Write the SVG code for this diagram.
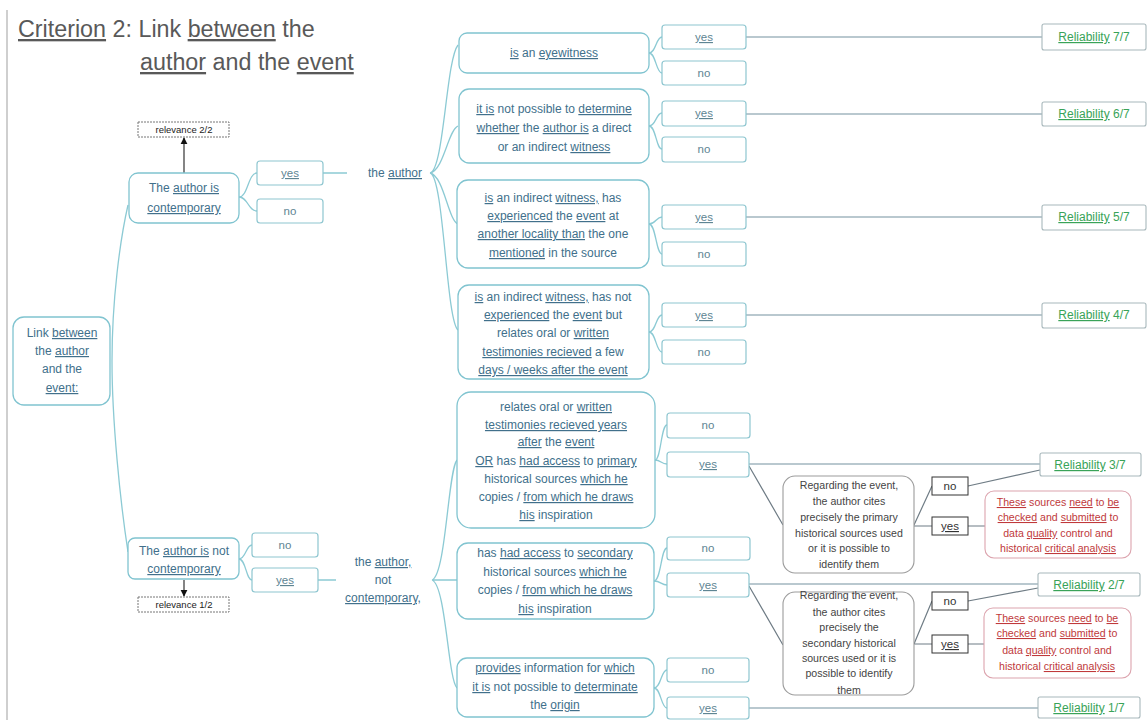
<svg xmlns="http://www.w3.org/2000/svg" width="1148" height="720" viewBox="0 0 1148 720">
<style>
text{font-family:"Liberation Sans",Arial,sans-serif}
.title{font-size:23.3px;fill:#595959}
.nb{fill:#fff;stroke:#80c4d0;stroke-width:1.3}
.yn{fill:#fff;stroke:#8ec6d0;stroke-width:1.2}
.t{font-size:12px;fill:#41708b;text-anchor:middle}
.tg{font-size:11.5px;fill:#5e8593;text-anchor:middle}
.con{fill:none;stroke:#8ccad4;stroke-width:1.3}
.gl{fill:none;stroke:#a3b6c0;stroke-width:1.6}
.dl{fill:none;stroke:#6f7c85;stroke-width:1.2}
.dec{fill:#fff;stroke:#9c9c9c;stroke-width:1.1}
.dt{font-size:10.6px;fill:#444;text-anchor:middle}
.bk{fill:#fff;stroke:#333;stroke-width:1}
.bt{font-size:11.5px;fill:#333;text-anchor:middle}
.rb{fill:#fff;stroke:#dca4ae;stroke-width:1.1}
.rt{font-size:10.6px;fill:#c0393b;text-anchor:middle}
.relb{fill:#fff;stroke:#a8b8bc;stroke-width:1.1}
.relt{font-size:12px;fill:#39a358;text-anchor:middle}
.rvb{fill:#fff;stroke:#777;stroke-width:1;stroke-dasharray:2 1}
.rvt{font-size:9.5px;fill:#222;text-anchor:middle}
.u{text-decoration:underline}
</style>
<defs>
<marker id="ah" viewBox="0 0 10 10" refX="9" refY="5" markerWidth="6" markerHeight="6" orient="auto-start-reverse"><path d="M0,0 L10,5 L0,10 z" fill="#111"/></marker>
</defs>
<rect x="0" y="0" width="1148" height="720" fill="#fff"/>
<line x1="7" y1="10" x2="7" y2="720" stroke="#cfcfcf" stroke-width="2"/>
<g id="title">
<text class="title" x="18" y="37"><tspan class="u">Criterion</tspan> 2: Link <tspan class="u">between</tspan> the</text>
<text class="title" x="140" y="70"><tspan class="u">author</tspan> and the <tspan class="u">event</tspan></text>
</g>
<g id="connectors">
<path class="con" d="M128,205 C120,240 112,300 112,361 C112,420 120,500 128,552"/>
<path class="con" d="M239,197 C248,197 248,173 257,173 M239,197 C248,197 248,211 257,211"/>
<path class="con" d="M239,559 C246,559 246,545 252,545 M239,559 C246,559 246,580 252,580"/>
<path class="con" d="M323,173 H347 M318,580 H336"/>
<path d="M184,173 V138" stroke="#333" stroke-width="1.2" marker-end="url(#ah)"/>
<path d="M184,580 V596" stroke="#333" stroke-width="1.2" marker-end="url(#ah)"/>
<path class="con" d="M430,173 C444,170 446,60 458,45 M430,173 C444,170 448,130 458,126 M430,173 C444,176 448,220 458,224 M430,173 C444,176 446,320 458,330"/>
<path class="con" d="M432,580 C446,575 448,470 457,460 M432,580 H457 M432,580 C446,585 448,680 457,688"/>
<path class="con" d="M649,53 C656,53 656,37 662,37 M649,53 C656,53 656,73 662,73"/>
<path class="con" d="M649,126 C656,126 656,113 662,113 M649,126 C656,126 656,149 662,149"/>
<path class="con" d="M649,224 C656,224 656,217 662,217 M649,224 C656,224 656,254 662,254"/>
<path class="con" d="M649,332 C656,332 656,315 662,315 M649,332 C656,332 656,352 662,352"/>
<path class="con" d="M655,460 C661,460 661,425 667,425 M655,460 C661,460 661,464 667,464"/>
<path class="con" d="M654,581 C661,581 661,548 667,548 M654,581 C661,581 661,585 667,585"/>
<path class="con" d="M654,688 C661,688 661,670 667,670 M654,688 C661,688 661,708 667,708"/>
<path class="gl" d="M746,37 H1042 M746,114 H1042 M746,217 H1042 M746,315 H1042 M749,464 H1040 M749,584 H1038 M749,708 H1038"/>
<path class="dl" d="M749,466 L783,525 M749,586 L783,645"/>
<path class="dl" d="M914,525 L932,486 M914,526 H932 M968,486 L1040,470 M968,526 H985"/>
<path class="dl" d="M914,644 L932,601 M914,644 H932 M968,601 L1038,588 M968,644 H984"/>
</g>
<g id="root">
<rect class="nb" x="13" y="317" width="97" height="88" rx="11"/>
<text class="t" x="62" y="337">Link <tspan class="u">between</tspan></text>
<text class="t" x="62" y="355">the <tspan class="u">author</tspan></text>
<text class="t" x="62" y="373">and the</text>
<text class="t" x="62" y="392"><tspan class="u">event:</tspan></text>
</g>
<g id="contemporary">
<rect class="nb" x="129" y="173" width="110" height="50" rx="9"/>
<text class="t" x="184" y="192">The <tspan class="u">author is</tspan></text>
<text class="t" x="184" y="212"><tspan class="u">contemporary</tspan></text>
</g>
<g id="relevance22">
<rect class="rvb" x="138" y="122" width="91" height="15"/>
<text class="rvt" x="184" y="133">relevance 2/2</text>
</g>
<g id="yes-c"><rect class="yn" x="257" y="161" width="66" height="24" rx="3"/><text class="tg" x="290" y="177"><tspan class="u">yes</tspan></text></g>
<g id="no-c"><rect class="yn" x="257" y="199" width="66" height="24" rx="3"/><text class="tg" x="290" y="215">no</text></g>
<g id="the-author"><text class="t" x="395" y="177">the <tspan class="u">author</tspan></text></g>
<g id="notcontemporary">
<rect class="nb" x="128" y="538" width="111" height="41" rx="7"/>
<text class="t" x="184" y="555">The <tspan class="u">author is</tspan> not</text>
<text class="t" x="184" y="573"><tspan class="u">contemporary</tspan></text>
</g>
<g id="relevance12">
<rect class="rvb" x="138" y="597" width="91" height="15"/>
<text class="rvt" x="184" y="608">relevance 1/2</text>
</g>
<g id="no-nc"><rect class="yn" x="252" y="533" width="66" height="24" rx="3"/><text class="tg" x="285" y="549">no</text></g>
<g id="yes-nc"><rect class="yn" x="252" y="568" width="66" height="24" rx="3"/><text class="tg" x="285" y="584"><tspan class="u">yes</tspan></text></g>
<g id="the-author-nc">
<text class="t" x="383" y="566">the <tspan class="u">author,</tspan></text>
<text class="t" x="383" y="584">not</text>
<text class="t" x="383" y="602"><tspan class="u">contemporary,</tspan></text>
</g>
<g id="b1">
<rect class="nb" x="459" y="33" width="190" height="40" rx="8"/>
<text class="t" x="554" y="57"><tspan class="u">is</tspan> an <tspan class="u">eyewitness</tspan></text>
</g>
<g id="b2">
<rect class="nb" x="459" y="89" width="190" height="74" rx="10"/>
<text class="t" x="554" y="113"><tspan class="u">it is</tspan> not possible to <tspan class="u">determine</tspan></text>
<text class="t" x="554" y="132"><tspan class="u">whether</tspan> the <tspan class="u">author is</tspan> a direct</text>
<text class="t" x="554" y="151">or an indirect <tspan class="u">witness</tspan></text>
</g>
<g id="b3">
<rect class="nb" x="457" y="180" width="192" height="88" rx="11"/>
<text class="t" x="553" y="202"><tspan class="u">is</tspan> an indirect <tspan class="u">witness,</tspan> has</text>
<text class="t" x="553" y="220"><tspan class="u">experienced</tspan> the <tspan class="u">event</tspan> at</text>
<text class="t" x="553" y="238"><tspan class="u">another locality than</tspan> the one</text>
<text class="t" x="553" y="257"><tspan class="u">mentioned</tspan> in the source</text>
</g>
<g id="b4">
<rect class="nb" x="458" y="285" width="191" height="94" rx="11"/>
<text class="t" x="553" y="301"><tspan class="u">is</tspan> an indirect <tspan class="u">witness,</tspan> has not</text>
<text class="t" x="553" y="319"><tspan class="u">experienced</tspan> the <tspan class="u">event</tspan> but</text>
<text class="t" x="553" y="337">relates oral or <tspan class="u">written</tspan></text>
<text class="t" x="553" y="356"><tspan class="u">testimonies recieved</tspan> a few</text>
<text class="t" x="553" y="374"><tspan class="u">days / weeks after the event</tspan></text>
</g>
<g id="yn1"><rect class="yn" x="662" y="25" width="84" height="24" rx="3"/><text class="tg" x="704" y="41"><tspan class="u">yes</tspan></text>
<rect class="yn" x="662" y="61" width="84" height="24" rx="3"/><text class="tg" x="704" y="77">no</text></g>
<g id="yn2"><rect class="yn" x="662" y="101" width="84" height="25" rx="3"/><text class="tg" x="704" y="117"><tspan class="u">yes</tspan></text>
<rect class="yn" x="662" y="137" width="84" height="25" rx="3"/><text class="tg" x="704" y="153">no</text></g>
<g id="yn3"><rect class="yn" x="662" y="205" width="84" height="24" rx="3"/><text class="tg" x="704" y="221"><tspan class="u">yes</tspan></text>
<rect class="yn" x="662" y="242" width="84" height="24" rx="3"/><text class="tg" x="704" y="258">no</text></g>
<g id="yn4"><rect class="yn" x="662" y="303" width="84" height="24" rx="3"/><text class="tg" x="704" y="319"><tspan class="u">yes</tspan></text>
<rect class="yn" x="662" y="340" width="84" height="24" rx="3"/><text class="tg" x="704" y="356">no</text></g>
<g id="rel7"><rect class="relb" x="1042" y="24" width="104" height="26" rx="2"/><text class="relt" x="1094" y="41"><tspan class="u">Reliability</tspan> 7/7</text></g>
<g id="rel6"><rect class="relb" x="1042" y="102" width="104" height="24" rx="2"/><text class="relt" x="1094" y="118"><tspan class="u">Reliability</tspan> 6/7</text></g>
<g id="rel5"><rect class="relb" x="1042" y="205" width="104" height="25" rx="2"/><text class="relt" x="1094" y="221"><tspan class="u">Reliability</tspan> 5/7</text></g>
<g id="rel4"><rect class="relb" x="1042" y="303" width="104" height="25" rx="2"/><text class="relt" x="1094" y="319"><tspan class="u">Reliability</tspan> 4/7</text></g>
<g id="b5">
<rect class="nb" x="457" y="392" width="198" height="136" rx="14"/>
<text class="t" x="556" y="411">relates oral or <tspan class="u">written</tspan></text>
<text class="t" x="556" y="429"><tspan class="u">testimonies recieved years</tspan></text>
<text class="t" x="556" y="446"><tspan class="u">after</tspan> the <tspan class="u">event</tspan></text>
<text class="t" x="556" y="465"><tspan class="u">OR</tspan> has <tspan class="u">had access</tspan> to <tspan class="u">primary</tspan></text>
<text class="t" x="556" y="483">historical sources <tspan class="u">which he</tspan></text>
<text class="t" x="556" y="501">copies / <tspan class="u">from which he draws</tspan></text>
<text class="t" x="556" y="519"><tspan class="u">his</tspan> inspiration</text>
</g>
<g id="b6">
<rect class="nb" x="457" y="543" width="197" height="76" rx="11"/>
<text class="t" x="555" y="557">has <tspan class="u">had access</tspan> to <tspan class="u">secondary</tspan></text>
<text class="t" x="555" y="576">historical sources <tspan class="u">which he</tspan></text>
<text class="t" x="555" y="594">copies / <tspan class="u">from which he draws</tspan></text>
<text class="t" x="555" y="613"><tspan class="u">his</tspan> inspiration</text>
</g>
<g id="b7">
<rect class="nb" x="457" y="658" width="197" height="59" rx="10"/>
<text class="t" x="555" y="672"><tspan class="u">provides</tspan> information for <tspan class="u">which</tspan></text>
<text class="t" x="555" y="691"><tspan class="u">it is</tspan> not possible to <tspan class="u">determinate</tspan></text>
<text class="t" x="555" y="709">the <tspan class="u">origin</tspan></text>
</g>
<g id="yn5"><rect class="yn" x="667" y="413" width="83" height="25" rx="3"/><text class="tg" x="708" y="429">no</text>
<rect class="yn" x="667" y="452" width="82" height="25" rx="3"/><text class="tg" x="708" y="468"><tspan class="u">yes</tspan></text></g>
<g id="yn6"><rect class="yn" x="667" y="537" width="83" height="23" rx="3"/><text class="tg" x="708" y="552">no</text>
<rect class="yn" x="667" y="573" width="82" height="24" rx="3"/><text class="tg" x="708" y="589"><tspan class="u">yes</tspan></text></g>
<g id="yn7"><rect class="yn" x="667" y="658" width="82" height="24" rx="3"/><text class="tg" x="708" y="674">no</text>
<rect class="yn" x="667" y="697" width="82" height="22" rx="3"/><text class="tg" x="708" y="712"><tspan class="u">yes</tspan></text></g>
<g id="decA">
<rect class="dec" x="783" y="476" width="131" height="97" rx="12"/>
<text class="dt" x="849" y="489">Regarding the event,</text>
<text class="dt" x="849" y="505">the author cites</text>
<text class="dt" x="849" y="521">precisely the primary</text>
<text class="dt" x="849" y="537">historical sources used</text>
<text class="dt" x="849" y="552">or it is possible to</text>
<text class="dt" x="849" y="568">identify them</text>
</g>
<g id="noA"><rect class="bk" x="932" y="477" width="36" height="18"/><text class="bt" x="950" y="490">no</text></g>
<g id="yesA"><rect class="bk" x="932" y="517" width="36" height="18"/><text class="bt" x="950" y="530"><tspan class="u">yes</tspan></text></g>
<g id="redA">
<rect class="rb" x="985" y="491" width="146" height="67" rx="9"/>
<text class="rt" x="1058" y="506"><tspan class="u">These</tspan> sources <tspan class="u">need</tspan> to <tspan class="u">be</tspan></text>
<text class="rt" x="1058" y="521"><tspan class="u">checked</tspan> and <tspan class="u">submitted</tspan> to</text>
<text class="rt" x="1058" y="537">data <tspan class="u">quality</tspan> control and</text>
<text class="rt" x="1058" y="552">historical <tspan class="u">critical analysis</tspan></text>
</g>
<g id="rel3"><rect class="relb" x="1040" y="453" width="101" height="23" rx="2"/><text class="relt" x="1090" y="469"><tspan class="u">Reliability</tspan> 3/7</text></g>
<g id="decB">
<rect class="dec" x="783" y="592" width="131" height="103" rx="12"/>
<text class="dt" x="849" y="599">Regarding the event,</text>
<text class="dt" x="849" y="616">the author cites</text>
<text class="dt" x="849" y="631">precisely the</text>
<text class="dt" x="849" y="647">secondary historical</text>
<text class="dt" x="849" y="662">sources used or it is</text>
<text class="dt" x="849" y="677">possible to identify</text>
<text class="dt" x="849" y="694">them</text>
</g>
<g id="noB"><rect class="bk" x="932" y="592" width="36" height="18"/><text class="bt" x="950" y="605">no</text></g>
<g id="yesB"><rect class="bk" x="932" y="635" width="36" height="18"/><text class="bt" x="950" y="648"><tspan class="u">yes</tspan></text></g>
<g id="redB">
<rect class="rb" x="984" y="608" width="147" height="70" rx="9"/>
<text class="rt" x="1057" y="622"><tspan class="u">These</tspan> sources <tspan class="u">need</tspan> to <tspan class="u">be</tspan></text>
<text class="rt" x="1057" y="637"><tspan class="u">checked</tspan> and <tspan class="u">submitted</tspan> to</text>
<text class="rt" x="1057" y="654">data <tspan class="u">quality</tspan> control and</text>
<text class="rt" x="1057" y="670">historical <tspan class="u">critical analysis</tspan></text>
</g>
<g id="rel2"><rect class="relb" x="1038" y="573" width="102" height="23" rx="2"/><text class="relt" x="1089" y="589"><tspan class="u">Reliability</tspan> 2/7</text></g>
<g id="rel1"><rect class="relb" x="1038" y="697" width="102" height="21" rx="2"/><text class="relt" x="1089" y="712"><tspan class="u">Reliability</tspan> 1/7</text></g>
</svg>
